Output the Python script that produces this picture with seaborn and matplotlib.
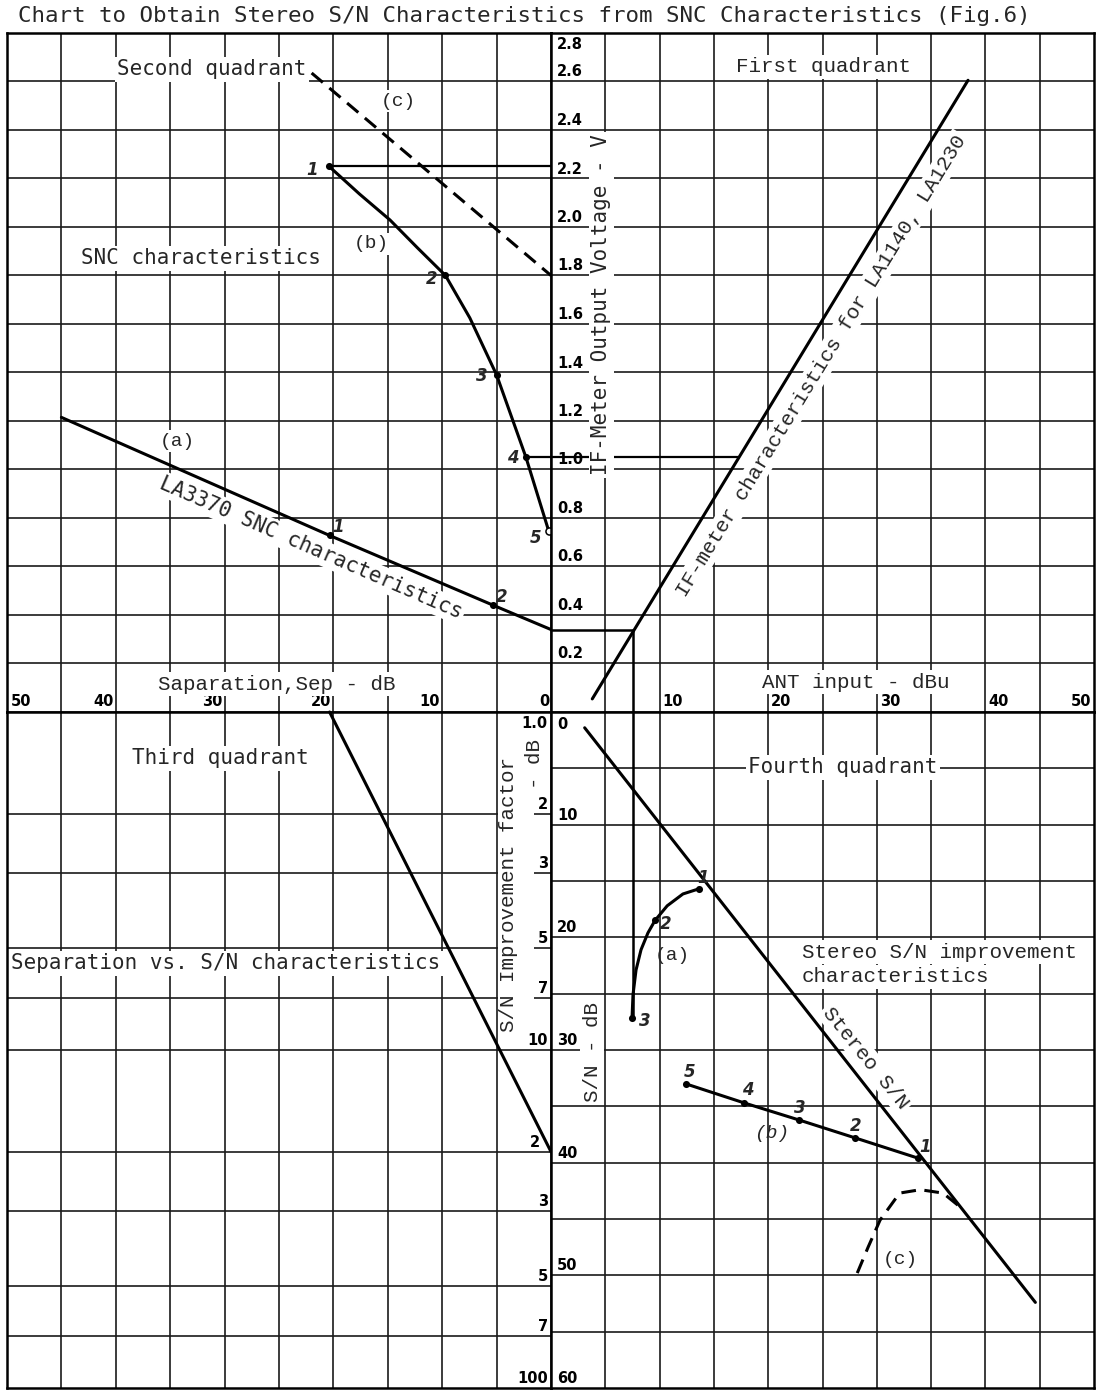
import numpy as np
import matplotlib
matplotlib.use("Agg")
import matplotlib.pyplot as plt
from matplotlib.patches import Rectangle
from matplotlib.ticker import NullLocator
import seaborn as sns

sns.set_style("white")
plt.rcParams['font.family'] = ['DejaVu Sans Mono', 'DejaVu Sans']

# ---------------- data ----------------
# Quadrant II : separation (dB) vs IF-meter output voltage (V)
sep_a = [45.0, 20.35, 5.3, 0.0]          # (a) LA3370 SNC characteristics
v_a = [1.215, 0.728, 0.44, 0.34]
sep_a_pts = [20.35, 5.3]
v_a_pts = [0.728, 0.44]

sep_b = [20.4, 17.6, 14.8, 12.25, 9.7, 7.46, 5.0, 2.3, 0.2]   # (b) SNC curve
v_b = [2.25, 2.136, 2.029, 1.913, 1.80, 1.625, 1.39, 1.05, 0.745]
sep_b_pts = [20.4, 9.7, 5.0, 2.3]
v_b_pts = [2.25, 1.80, 1.39, 1.05]
sep_b_open = [0.2]
v_b_open = [0.745]

sep_c = [22.0, 0.0]                      # (c) dashed
v_c = [2.635, 1.80]

# Quadrant I : ANT input (dBu) vs IF-meter output (V)
ant_if = [3.8, 38.4]
v_if = [0.054, 2.605]

# connectors
v_conn_a = 0.34
ant_conn_a = 7.55
v_conn_b1 = 2.25
v_conn_b4 = 1.05
ant_conn_b4 = 17.3

# Quadrant IV : ANT input (dBu) vs S/N (dB)
ant_st = [3.1, 44.6]                     # Stereo S/N
sn_st = [1.4, 52.4]
ant_qa = [7.46, 7.55, 7.83, 8.29, 8.93, 9.58, 10.7, 12.15, 13.6]
sn_qa = [27.2, 25.1, 22.9, 21.1, 19.6, 18.5, 17.2, 16.15, 15.7]
ant_qa_pts = [13.6, 9.58, 7.46]
sn_qa_pts = [15.7, 18.5, 27.2]
ant_qb = [12.4, 17.8, 22.8, 28.0, 33.8]
sn_qb = [33.0, 34.7, 36.2, 37.8, 39.6]
ant_qc = [28.2, 29.2, 30.3, 32.1, 34.0, 36.1, 37.5]
sn_qc = [49.8, 47.5, 45.1, 42.7, 42.4, 42.7, 43.8]

# Quadrant III : separation vs S/N improvement factor
sep_q3 = [20.35, 0.0]
fac_q3 = [1.0, 20.0]

# tick labels
v_ticks = [0.2, 0.4, 0.6, 0.8, 1.0, 1.2, 1.4, 1.6, 1.8, 2.0, 2.2, 2.4, 2.6, 2.8]
sep_ticks = [50, 40, 30, 20, 10, 0]
ant_ticks = [10, 20, 30, 40, 50]
sn_ticks = [0, 10, 20, 30, 40, 50, 60]
fac_vals = [1, 2, 3, 5, 7, 10, 20, 30, 50, 70, 100]
fac_labels = ["1.0", "2", "3", "5", "7", "10", "2", "3", "5", "7", "100"]

# ---------------- layout ----------------
W, H = 1096, 1390
fig = plt.figure(figsize=(W / 100, H / 100), dpi=100)
XL, XC, XR = 7, 551, 1094
YT, YC, YB = 33, 712, 1388


def box(x0, y0, x1, y1):
    return [x0 / W, 1 - y1 / H, (x1 - x0) / W, (y1 - y0) / H]


ax_ul = fig.add_axes(box(XL, YT, XC, YC))
ax_ur = fig.add_axes(box(XC, YT, XR, YC))
ax_ll = fig.add_axes(box(XL, YC, XC, YB))
ax_lr = fig.add_axes(box(XC, YC, XR, YB))

ax_ul.set_xlim(50, 0); ax_ul.set_ylim(0, 2.8)
ax_ur.set_xlim(0, 50); ax_ur.set_ylim(0, 2.8)
ax_ll.set_xlim(50, 0); ax_ll.set_yscale("log"); ax_ll.set_ylim(100, 1)
ax_lr.set_xlim(0, 50); ax_lr.set_ylim(60, 0)

GC = "#1a1a1a"
for ax in (ax_ul, ax_ur, ax_ll, ax_lr):
    ax.set_xticks(np.arange(5, 50, 5))
    ax.xaxis.set_minor_locator(NullLocator())
    ax.grid(True, which="major", color=GC, lw=1.2)
    ax.set_axisbelow(True)
    ax.tick_params(length=0, labelbottom=False, labelleft=False)
    for sp in ax.spines.values():
        sp.set_visible(True)
        sp.set_color("black")
        sp.set_linewidth(1.8)
for ax in (ax_ul, ax_ur):
    ax.set_yticks(np.arange(0.2, 2.7, 0.2))
ax_lr.set_yticks(np.arange(5, 60, 5))
ax_ll.set_yticks([2, 3, 5, 7, 10, 20, 30, 50, 70])
ax_ll.yaxis.set_minor_locator(NullLocator())

# mask for label strip in quadrant III
ax_ll.add_patch(Rectangle((1.55, 1.03), 3.3, 8.2, facecolor="white",
                          edgecolor="none", zorder=1))

LW = 2.2


def line(ax, x, y, lw=LW, dashed=False):
    sns.lineplot(x=x, y=y, ax=ax, color="black", lw=lw, sort=False,
                 estimator=None, legend=False, clip_on=False, zorder=3)
    ln = ax.lines[-1]
    ln.set_solid_joinstyle("round")
    if dashed:
        ln.set_linestyle((0, (4.8, 2.8)))
    return ln


def dots(ax, x, y, open_=False):
    sns.scatterplot(x=x, y=y, ax=ax, s=26, color="white" if open_ else "black",
                    edgecolor="black", linewidth=1.1 if open_ else 0,
                    zorder=5, clip_on=False, legend=False)


# Quadrant II
line(ax_ul, sep_a, v_a)
dots(ax_ul, sep_a_pts, v_a_pts)
line(ax_ul, sep_b, v_b)
dots(ax_ul, sep_b_pts, v_b_pts)
dots(ax_ul, sep_b_open, v_b_open, open_=True)
line(ax_ul, sep_c, v_c, dashed=True)
line(ax_ul, [sep_b_pts[0], 0.0], [v_conn_b1, v_conn_b1], lw=1.6)
line(ax_ul, [sep_b_pts[3], 0.0], [v_conn_b4, v_conn_b4], lw=1.6)

# Quadrant I
line(ax_ur, ant_if, v_if)
line(ax_ur, [0.0, ant_conn_a], [v_conn_a, v_conn_a], lw=1.8)
line(ax_ur, [ant_conn_a, ant_conn_a], [v_conn_a, 0.0], lw=1.8)
line(ax_ur, [0.0, ant_conn_b4], [v_conn_b4, v_conn_b4], lw=1.6)

# Quadrant IV
line(ax_lr, [ant_conn_a, ant_conn_a], [0.0, sn_qa[0]], lw=1.8)
line(ax_lr, ant_st, sn_st)
line(ax_lr, ant_qa, sn_qa)
dots(ax_lr, ant_qa_pts, sn_qa_pts)
line(ax_lr, ant_qb, sn_qb)
dots(ax_lr, ant_qb, sn_qb)
line(ax_lr, ant_qc, sn_qc, dashed=True)

# Quadrant III
line(ax_ll, sep_q3, fac_q3)

# ---------------- tick labels ----------------
TK = dict(fontsize=10.5, fontweight="bold", family="DejaVu Sans", color="black")
for v in v_ticks:
    if v < 2.75:
        ax_ur.annotate(f"{v:.1f}", xy=(0, v), xytext=(6, 2), textcoords="offset pixels",
                       ha="left", va="bottom", **TK)
    else:
        ax_ur.annotate(f"{v:.1f}", xy=(0, v), xytext=(6, -4), textcoords="offset pixels",
                       ha="left", va="top", **TK)
for s in sep_ticks:
    if s == 50:
        ax_ul.annotate(str(s), xy=(s, 0), xytext=(4, 3), textcoords="offset pixels",
                       ha="left", va="bottom", **TK)
    else:
        ax_ul.annotate(str(s), xy=(s, 0), xytext=(-2, 3), textcoords="offset pixels",
                       ha="right", va="bottom", **TK)
for a in ant_ticks:
    if a == 50:
        ax_ur.annotate(str(a), xy=(a, 0), xytext=(-3, 3), textcoords="offset pixels",
                       ha="right", va="bottom", **TK)
    else:
        ax_ur.annotate(str(a), xy=(a, 0), xytext=(3, 3), textcoords="offset pixels",
                       ha="left", va="bottom", **TK)
for s in sn_ticks:
    if s == 0:
        ax_lr.annotate(str(s), xy=(0, s), xytext=(6, -5), textcoords="offset pixels",
                       ha="left", va="top", **TK)
    else:
        ax_lr.annotate(str(s), xy=(0, s), xytext=(6, 2), textcoords="offset pixels",
                       ha="left", va="bottom", **TK)
for f, lb in zip(fac_vals, fac_labels):
    if f == 1:
        ax_ll.annotate(lb, xy=(0, f), xytext=(-4, -4), textcoords="offset pixels",
                       ha="right", va="top", **TK)
    elif f == 20:
        ax_ll.annotate(lb, xy=(0, f), xytext=(-11, 2), textcoords="offset pixels",
                       ha="right", va="bottom", **TK)
    else:
        ax_ll.annotate(lb, xy=(0, f), xytext=(-3, 2), textcoords="offset pixels",
                       ha="right", va="bottom", **TK)

# ---------------- text labels ----------------
WB = dict(boxstyle="square,pad=0.12", fc="white", ec="none")
SANS = "DejaVu Sans Mono"
TYPE = "Liberation Mono"


def ptxt(x, y, s, size=15, family=SANS, rot=0, bbox=True, ha="center", va="center", **kw):
    fig.text(x / W, 1 - y / H, s, fontsize=size, family=family, rotation=rot,
             rotation_mode="anchor", ha=ha, va=va,
             bbox=WB if bbox else None, zorder=4, **kw)


ptxt(524, 16, "Chart to Obtain Stereo S/N Characteristics from SNC Characteristics (Fig.6)",
     size=16.2, bbox=False)
ptxt(212, 69, "Second quadrant")
ptxt(823, 67, "First quadrant", family=TYPE)
ptxt(398, 101, "(c)", size=14, family=TYPE)
ptxt(201, 258, "SNC characteristics")
ptxt(371, 244, "(b)", size=14, family=TYPE)
ptxt(177, 441, "(a)", size=14, family=TYPE)
ptxt(311, 548, "LA3370 SNC characteristics", rot=-23.5)
ptxt(601, 305, "IF-Meter Output Voltage - V", rot=90)
ptxt(821, 366, "IF-meter characteristics for LA1140, LA1230", family=TYPE, rot=58.5)
ptxt(277, 684, "Saparation,Sep - dB", family=TYPE)
ptxt(856, 682, "ANT input - dBu", family=TYPE)
ptxt(220, 758, "Third quadrant")
ptxt(843, 767, "Fourth quadrant")
ptxt(226, 963, "Separation vs. S/N characteristics")
ptxt(509, 895, "S/N Improvement factor", family=TYPE, rot=90, bbox=False)
ptxt(535, 764, "- dB", family=TYPE, rot=90, bbox=False)
ptxt(592, 1052, "S/N - dB", family=TYPE, rot=90)
ptxt(802, 952, "Stereo S/N improvement", family=TYPE, ha="left")
ptxt(802, 977, "characteristics", family=TYPE, ha="left")
ptxt(866, 1058, "Stereo S/N", family=TYPE, rot=-51)
ptxt(672, 955, "(a)", size=14, family=TYPE, bbox=False)
ptxt(772, 1133, "(b)", size=14, family=TYPE, bbox=False, style="italic")
ptxt(900, 1260, "(c)", size=14, family=TYPE, bbox=False)

# point numbers
PN = dict(size=12, family="DejaVu Sans", bbox=False, fontweight="bold", style="italic")
for (x, y, s) in [(312, 170, "1"), (432, 279, "2"), (482, 376, "3"), (513, 458, "4"),
                  (536, 538, "5"), (338, 527, "1"), (502, 597, "2"),
                  (703, 878, "1"), (666, 924, "2"), (645, 1021, "3"),
                  (690, 1072, "5"), (748, 1090, "4"), (800, 1108, "3"),
                  (856, 1126, "2"), (925, 1147, "1")]:
    ptxt(x, y, s, **PN)

fig.savefig("out.png", dpi=100)
